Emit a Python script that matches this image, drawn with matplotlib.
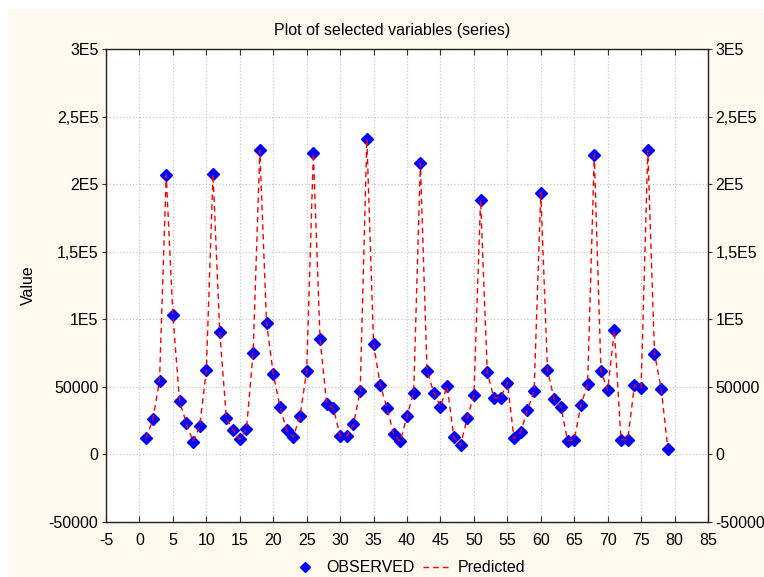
import matplotlib
matplotlib.use("Agg")
import matplotlib.pyplot as plt
from matplotlib.patches import Rectangle
from matplotlib.ticker import FixedLocator, FuncFormatter

plt.rcParams["font.family"] = ["Liberation Sans", "DejaVu Sans"]
plt.rcParams["axes.unicode_minus"] = False

# case number 1..79
cases = list(range(1, 80))

observed = [
    11800, 25900, 54400, 206600, 103200, 39200, 23400, 9400, 20700, 62300,
    207600, 90900, 26800, 18200, 11100, 19000, 75400, 224900, 97300, 59800,
    35400, 18200, 12800, 28600, 61600, 223200, 85200, 37400, 34000, 13800,
    13300, 22400, 47000, 233500, 81800, 51200, 34700, 14800, 9600, 28600,
    45800, 215300, 61800, 45800, 35400, 50500, 12800, 6900, 26800, 44100,
    188200, 60800, 41900, 41900, 53200, 11800, 16300, 33000, 47000, 193800,
    62600, 40900, 35400, 10300, 10800, 36400, 52000, 221400, 61600, 47500,
    91900, 10800, 10800, 51200, 49500, 224900, 74600, 48700, 4200,
]

# fitted values sit on top of the observations
predicted = list(observed)

x_ticks = list(range(-5, 90, 5))
y_ticks = list(range(-50000, 300001, 50000))
y_labels = ["-50000", "0", "50000", "1E5", "1,5E5", "2E5", "2,5E5", "3E5"]

fs = 11.5

fig = plt.figure(figsize=(7.64, 5.77), dpi=100)
fig.patch.set_facecolor("white")
fig.patches.append(Rectangle((8 / 764, 0), 1, 1 - 9 / 577, transform=fig.transFigure,
                             facecolor="#fef9ef", edgecolor="none", zorder=-10))

ax = fig.add_axes([106 / 764, 55 / 577, 602 / 764, 473 / 577])
ax.set_facecolor("white")

ax.plot(cases, observed, linestyle="none", marker="D", markersize=5.8,
        color="#0000ff", markeredgecolor="#0000ff", label="OBSERVED", zorder=3)
ax.plot(cases, predicted, linestyle=(0, (4, 3)), linewidth=1.0, color="#ff0000",
        label="Predicted", zorder=4)

ax.set_xlim(-5, 85)
ax.set_ylim(-50000, 300000)
ax.xaxis.set_major_locator(FixedLocator(x_ticks))
ax.yaxis.set_major_locator(FixedLocator(y_ticks))
ax.yaxis.set_major_formatter(FuncFormatter(lambda v, p: y_labels[y_ticks.index(int(round(v)))]))

ax.grid(True, color="#c8c8c8", linestyle=":", linewidth=0.9)
ax.set_axisbelow(True)

ax.tick_params(axis="x", direction="in", top=True, bottom=True, length=4,
               labelsize=fs, pad=8, color="#333333")
ax.tick_params(axis="y", direction="out", left=True, right=True, labelright=True,
               length=3, labelsize=fs, pad=2.5, color="#333333")
for s in ax.spines.values():
    s.set_color("#222222")
    s.set_linewidth(1.0)

ax.set_title("Plot of selected variables (series)", fontsize=fs, pad=10, x=0.475)
ax.set_ylabel("Value", fontsize=fs)
ax.yaxis.set_label_coords(-0.117, 0.5)

fig.legend(*ax.get_legend_handles_labels(), loc="center", bbox_to_anchor=(0.535, 0.016),
           ncol=2, frameon=False, fontsize=fs, handlelength=1.6, handletextpad=0.55,
           columnspacing=0.5, markerscale=0.8, numpoints=1)

fig.savefig("out.png", dpi=100)
